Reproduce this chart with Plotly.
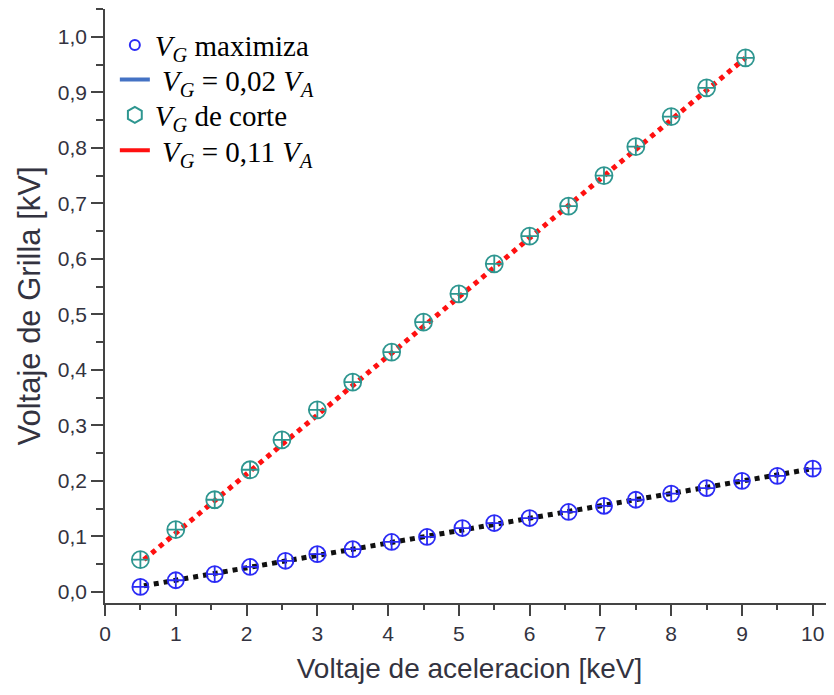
import plotly.graph_objects as go

# Data
x_max = [0.5, 1.0, 1.55, 2.05, 2.55, 3.0, 3.5, 4.05, 4.55, 5.05, 5.5, 6.0, 6.55, 7.05, 7.5, 8.0, 8.5, 9.0, 9.5, 10.0]
y_max = [0.009, 0.021, 0.032, 0.045, 0.056, 0.068, 0.077, 0.090, 0.099, 0.115, 0.124, 0.133, 0.144, 0.155, 0.166, 0.177, 0.187, 0.200, 0.209, 0.222]

x_cut = [0.5, 1.0, 1.55, 2.05, 2.5, 3.0, 3.5, 4.05, 4.5, 5.0, 5.5, 6.0, 6.55, 7.05, 7.5, 8.0, 8.5, 9.05]
y_cut = [0.058, 0.112, 0.166, 0.220, 0.274, 0.328, 0.378, 0.432, 0.486, 0.537, 0.591, 0.641, 0.695, 0.750, 0.802, 0.856, 0.908, 0.962]

fit_max_x = [0.55, 10.0]
fit_max_y = [0.011, 0.222]
fit_cut_x = [0.55, 9.05]
fit_cut_y = [0.058, 0.962]

x_ticks = [0, 1, 2, 3, 4, 5, 6, 7, 8, 9, 10]
y_ticks = [0.0, 0.1, 0.2, 0.3, 0.4, 0.5, 0.6, 0.7, 0.8, 0.9, 1.0]
y_ticklabels = ["0,0", "0,1", "0,2", "0,3", "0,4", "0,5", "0,6", "0,7", "0,8", "0,9", "1,0"]

leg_names = [
    "<i>V<sub>G</sub></i> maximiza",
    " <i>V<sub>G</sub></i> = 0,02 <i>V<sub>A</sub></i>",
    "<i>V<sub>G</sub></i> de corte",
    " <i>V<sub>G</sub></i> = 0,11 <i>V<sub>A</sub></i>",
]

BLUE = "#2B2BF5"
TEAL = "#2E9690"
RED = "#FF1010"

fig = go.Figure()

# fit lines
fig.add_trace(go.Scatter(x=fit_cut_x, y=fit_cut_y, mode="lines",
                         line=dict(color=RED, width=5, dash="dot"), showlegend=False))
fig.add_trace(go.Scatter(x=fit_max_x, y=fit_max_y, mode="lines",
                         line=dict(color="#111111", width=5, dash="dot"), showlegend=False))

# data points
fig.add_trace(go.Scatter(x=x_cut, y=y_cut, mode="markers",
                         marker=dict(symbol="circle-cross-open", size=17, color=TEAL,
                                     line=dict(width=1.8, color=TEAL)),
                         showlegend=False))
fig.add_trace(go.Scatter(x=x_max, y=y_max, mode="markers",
                         marker=dict(symbol="circle-cross-open", size=16, color=BLUE,
                                     line=dict(width=1.8, color=BLUE)),
                         showlegend=False))

# legend entries (one legend per row for exact placement)
fig.add_trace(go.Scatter(x=[None], y=[None], mode="markers", name=leg_names[0], legend="legend",
                         marker=dict(symbol="circle-open", size=10, color=BLUE,
                                     line=dict(width=2, color=BLUE))))
fig.add_trace(go.Scatter(x=[None], y=[None], mode="lines", name=leg_names[1], legend="legend2",
                         line=dict(color="#4472C4", width=4)))
fig.add_trace(go.Scatter(x=[None], y=[None], mode="markers", name=leg_names[2], legend="legend3",
                         marker=dict(symbol="hexagon-open", size=16, color=TEAL,
                                     line=dict(width=2, color=TEAL))))
fig.add_trace(go.Scatter(x=[None], y=[None], mode="lines", name=leg_names[3], legend="legend4",
                         line=dict(color=RED, width=4)))

axis_font = dict(family="Liberation Sans, Arial, sans-serif", size=21, color="#333340")
leg_font = dict(family="Liberation Serif, Times New Roman, serif", size=29, color="#000000")


def leg(y):
    return dict(x=0.0135, y=y, xanchor="left", yanchor="middle", font=leg_font,
                bgcolor="rgba(255,255,255,0)", borderwidth=0, itemwidth=30)


fig.update_layout(
    width=826, height=687,
    margin=dict(l=97, r=0, t=1, b=92),
    plot_bgcolor="white", paper_bgcolor="white",
    legend=leg(0.939),
    legend2=leg(0.881),
    legend3=leg(0.8215),
    legend4=leg(0.762),
    xaxis=dict(range=[0, 10.3], tickvals=x_ticks, ticktext=[str(v) for v in x_ticks],
               automargin=False,
               showgrid=False, zeroline=False, showline=True, linecolor="#444444", linewidth=1.5,
               ticks="outside", ticklen=11, tickwidth=1.5, tickcolor="#444444",
               minor=dict(dtick=0.5, ticks="outside", ticklen=5, tickwidth=1.5, tickcolor="#444444", showgrid=False),
               tickfont=axis_font,
               title=dict(text="Voltaje de aceleracion [keV]",
                          font=dict(family="Liberation Sans, Arial, sans-serif", size=28, color="#333340"),
                          standoff=14)),
    yaxis=dict(range=[-0.02, 1.05], tickvals=y_ticks, ticktext=y_ticklabels,
               automargin=False,
               showgrid=False, zeroline=False, showline=True, linecolor="#444444", linewidth=1.5,
               ticks="outside", ticklen=12, tickwidth=1.5, tickcolor="#444444",
               minor=dict(dtick=0.05, ticks="outside", ticklen=7, tickwidth=1.5, tickcolor="#444444", showgrid=False),
               tickfont=axis_font,
               title=dict(text="Voltaje de Grilla [kV]",
                          font=dict(family="Liberation Sans, Arial, sans-serif", size=31, color="#333340"),
                          standoff=8)),
)

fig.write_html("out.html")
